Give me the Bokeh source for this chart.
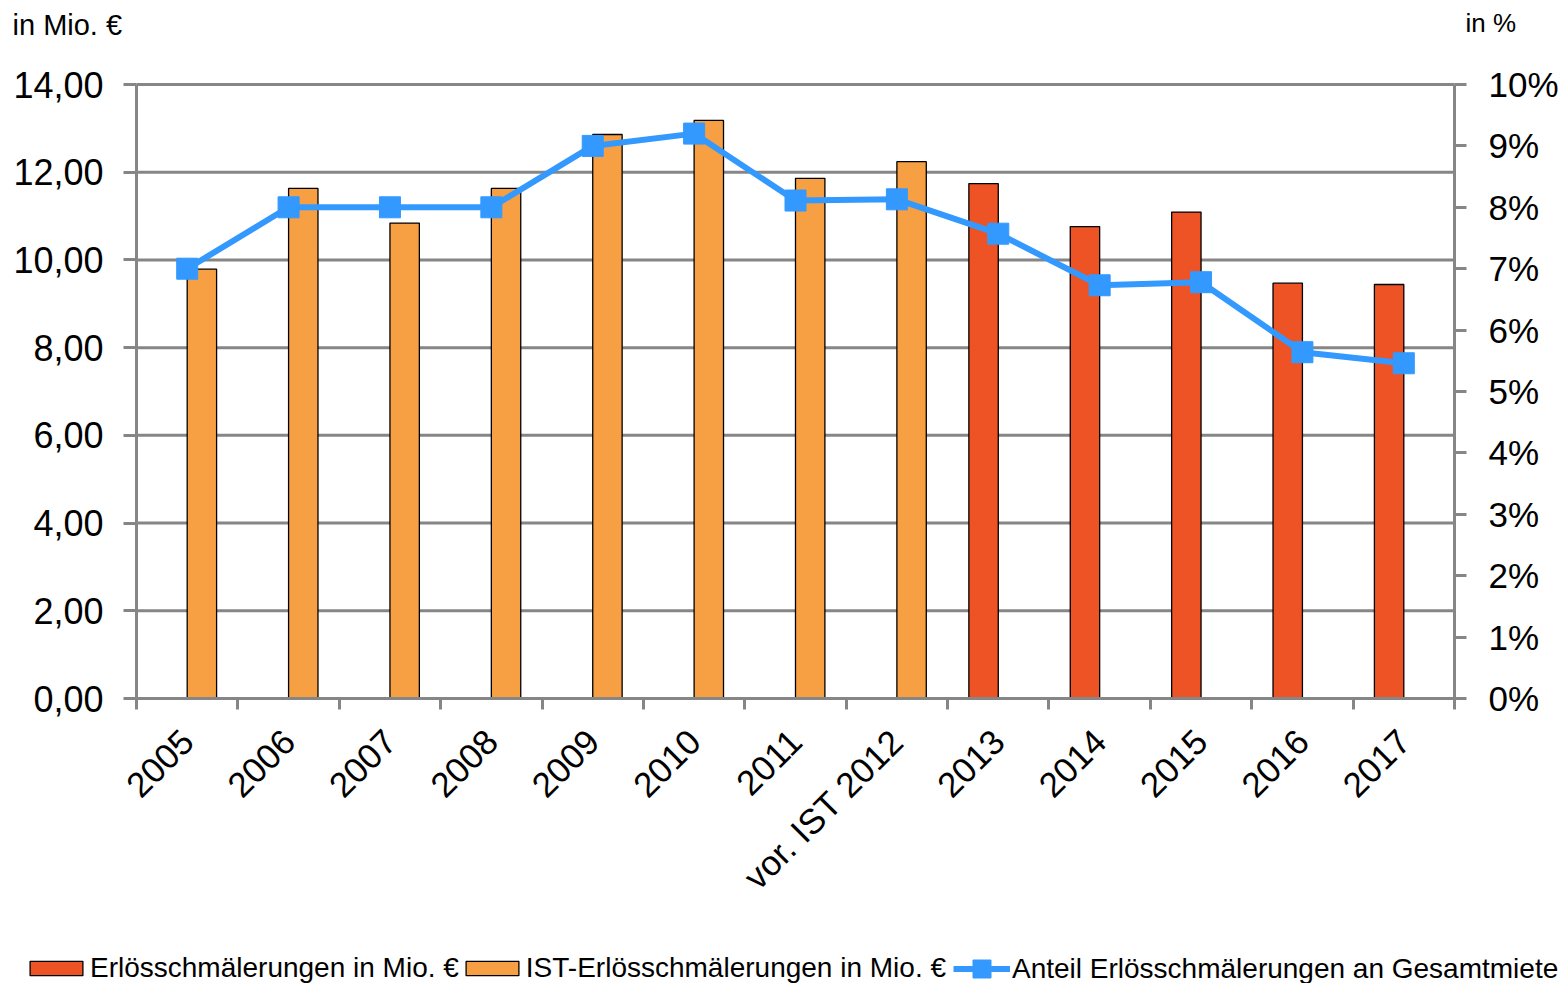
import math

from bokeh.embed import file_html
from bokeh.models import (FixedTicker, Label, Legend, LegendItem, LinearAxis,
                          Range1d)
from bokeh.plotting import figure
from bokeh.resources import INLINE

# Categories along the x axis
years = ["2005", "2006", "2007", "2008", "2009", "2010", "2011",
         "vor. IST 2012", "2013", "2014", "2015", "2016", "2017"]

# IST-Erlösschmälerungen in Mio. € (2005 .. vor. IST 2012)
ist_years = ["2005", "2006", "2007", "2008", "2009", "2010", "2011", "vor. IST 2012"]
ist_values = [9.79, 11.63, 10.84, 11.63, 12.86, 13.18, 11.86, 12.24]

# Erlösschmälerungen in Mio. € (2013 .. 2017)
erl_years = ["2013", "2014", "2015", "2016", "2017"]
erl_values = [11.74, 10.76, 11.09, 9.47, 9.44]

# Anteil Erlösschmälerungen an Gesamtmiete in %
share_pct = [7.0, 8.0, 8.0, 8.0, 9.0, 9.2, 8.11, 8.13, 7.57, 6.73, 6.78, 5.64, 5.46]

# Axis ticks and labels
left_ticks = [0, 2, 4, 6, 8, 10, 12, 14]
left_tick_labels = ["0,00", "2,00", "4,00", "6,00", "8,00", "10,00", "12,00", "14,00"]
right_ticks = [0, 1, 2, 3, 4, 5, 6, 7, 8, 9, 10]
right_tick_labels = ["0%", "1%", "2%", "3%", "4%", "5%", "6%", "7%", "8%", "9%", "10%"]

ORANGE = "#F79F43"
RED = "#EE5326"
BLUE = "#3399FF"
GRID = "#868686"
FONT = "Liberation Sans"

# page geometry (pixels): the plotting frame spans the whole canvas, the
# chart box sits inside it and the axes are pinned to the box edges
W, H = 1564, 983
BOX_L, BOX_R, BOX_T, BOX_B = 136, 1454, 84, 698

N = len(years)
Y_MAX = left_ticks[-1]
P_MAX = right_ticks[-1]
ux = (BOX_R - BOX_L) / N
uy = (BOX_B - BOX_T) / Y_MAX
up = (BOX_B - BOX_T) / P_MAX

BAR_W = 0.29


def centre(cat):
    return years.index(cat) + 0.5


p = figure(width=W, height=H, output_backend="svg", toolbar_location=None,
           x_axis_type=None, y_axis_type=None,
           x_range=Range1d(-BOX_L / ux, N + (W - BOX_R) / ux),
           y_range=Range1d(-(H - BOX_B) / uy, Y_MAX + BOX_T / uy),
           min_border=0, min_border_left=0, min_border_right=0,
           min_border_top=0, min_border_bottom=0,
           background_fill_color="white", border_fill_color="white")
p.outline_line_color = None
p.grid.visible = False
p.extra_y_ranges = {"pct": Range1d(-(H - BOX_B) / up, P_MAX + BOX_T / up)}

# horizontal grid lines at the left-axis ticks
p.segment(x0=[0] * len(left_ticks), x1=[N] * len(left_ticks), y0=left_ticks, y1=left_ticks,
          line_color=GRID, line_width=3)

# bars: two series side by side within each category
ist_x = [centre(c) + BAR_W / 2 for c in ist_years]
erl_x = [centre(c) - BAR_W / 2 for c in erl_years]
r_erl = p.vbar(x=erl_x, top=erl_values, width=BAR_W, fill_color=RED,
               line_color="black", line_width=1.3)
r_ist = p.vbar(x=ist_x, top=ist_values, width=BAR_W, fill_color=ORANGE,
               line_color="black", line_width=1.3)

# share line on the secondary axis
line_x = [centre(c) for c in years]
r_line = p.line(line_x, share_pct, y_range_name="pct", line_color=BLUE, line_width=6)
r_mark = p.scatter(line_x, share_pct, y_range_name="pct", marker="square", size=21,
                   fill_color=BLUE, line_color=BLUE)


def style_axis(ax, size, standoff):
    ax.axis_line_color = GRID
    ax.axis_line_width = 3
    ax.major_label_standoff = standoff
    ax.major_label_text_font = FONT
    ax.major_label_text_font_size = size
    ax.major_label_text_color = "black"


# x axis: labels at category centres, tick marks at category boundaries
xa = LinearAxis(fixed_location=0, bounds=(0, N),
                ticker=FixedTicker(ticks=line_x, minor_ticks=list(range(N + 1))))
xa.major_label_overrides = {x: y for x, y in zip(line_x, years)}
xa.major_label_orientation = math.pi / 4
xa.major_tick_out = 0
xa.major_tick_in = 0
xa.minor_tick_out = 11
xa.minor_tick_in = 0
xa.minor_tick_line_color = GRID
xa.minor_tick_line_width = 3
style_axis(xa, "35px", 26)
p.add_layout(xa, "below")

# left axis in Mio. €
ya = LinearAxis(fixed_location=0, bounds=(0, Y_MAX), ticker=FixedTicker(ticks=left_ticks))
ya.major_label_overrides = {t: s for t, s in zip(left_ticks, left_tick_labels)}
ya.minor_tick_line_color = None
ya.major_tick_in = 0
ya.major_tick_out = 13
ya.major_tick_line_color = GRID
ya.major_tick_line_width = 3
style_axis(ya, "36px", 20)
p.add_layout(ya, "left")

# right axis in percent
ra = LinearAxis(y_range_name="pct", fixed_location=N, bounds=(0, P_MAX),
                ticker=FixedTicker(ticks=right_ticks))
ra.major_label_overrides = {t: s for t, s in zip(right_ticks, right_tick_labels)}
ra.minor_tick_line_color = None
ra.major_tick_in = 0
ra.major_tick_out = 12
ra.major_tick_line_color = GRID
ra.major_tick_line_width = 3
style_axis(ra, "35px", 22)
p.add_layout(ra, "right")

# unit captions above both axes
p.add_layout(Label(x=12, y=H - 24, x_units="screen", y_units="screen", text="in Mio. €",
                   text_font=FONT, text_font_size="29px", text_color="black",
                   text_baseline="alphabetic"))
p.add_layout(Label(x=1465, y=H - 22, x_units="screen", y_units="screen", text="in %",
                   text_font=FONT, text_font_size="26px", text_color="black",
                   text_baseline="alphabetic"))

# legend row at the bottom: bar swatches, then the line swatch with its marker
LEGEND_STYLE = dict(orientation="horizontal", padding=0, margin=0, border_line_color=None,
                    background_fill_alpha=0, label_text_font=FONT,
                    label_text_font_size="28px", label_text_color="black")
legend_bars = Legend(items=[
    LegendItem(label="Erlösschmälerungen in Mio. €", renderers=[r_erl]),
    LegendItem(label="IST-Erlösschmälerungen in Mio. €", renderers=[r_ist]),
], location=(23, -1), glyph_width=66, glyph_height=18, label_standoff=1, spacing=0,
    **LEGEND_STYLE)
legend_line = Legend(items=[
    LegendItem(label="Anteil Erlösschmälerungen an Gesamtmiete", renderers=[r_line, r_mark]),
], location=(953, -8), glyph_width=57, glyph_height=45, label_standoff=2, spacing=0,
    **LEGEND_STYLE)
p.add_layout(legend_bars)
p.add_layout(legend_line)

open("out.html", "w").write(file_html(p, INLINE))
